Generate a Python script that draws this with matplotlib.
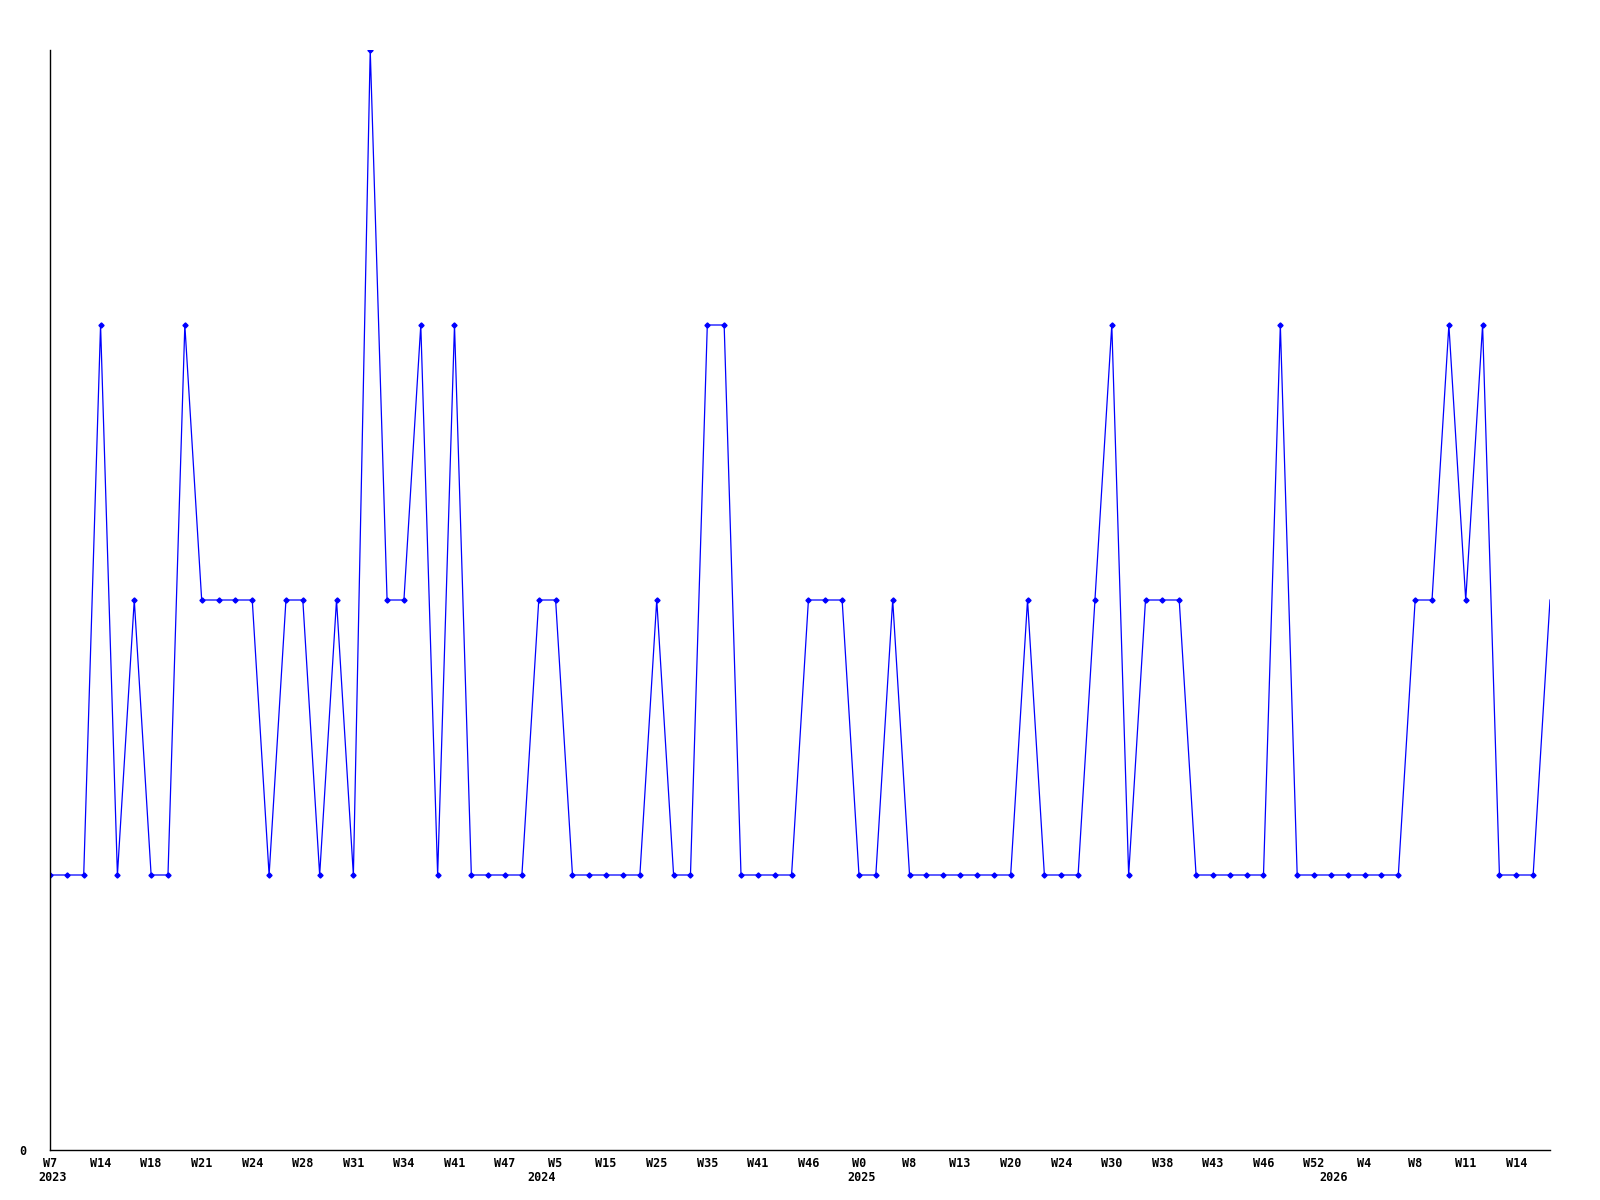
import matplotlib
matplotlib.use("Agg")
import matplotlib.pyplot as plt
import numpy as np

# valores semanales (uno por punto)
values = [1, 1, 1, 3, 1, 2, 1, 1, 3, 2,
          2, 2, 2, 1, 2, 2, 1, 2, 1, 4,
          2, 2, 3, 1, 3, 1, 1, 1, 1, 2,
          2, 1, 1, 1, 1, 1, 2, 1, 1, 3,
          3, 1, 1, 1, 1, 2, 2, 2, 1, 1,
          2, 1, 1, 1, 1, 1, 1, 1, 2, 1,
          1, 1, 2, 3, 1, 2, 2, 2, 1, 1,
          1, 1, 1, 3, 1, 1, 1, 1, 1, 1,
          1, 2, 2, 3, 2, 3, 1, 1, 1, 2]

week_labels = ['W7', 'W14', 'W18', 'W21', 'W24', 'W28', 'W31', 'W34', 'W41', 'W47',
               'W5', 'W15', 'W25', 'W35', 'W41', 'W46', 'W0', 'W8', 'W13', 'W20',
               'W24', 'W30', 'W38', 'W43', 'W46', 'W52', 'W4', 'W8', 'W11', 'W14']
label_step = 3

year_labels = ['2023', '2024', '2025', '2026']
year_index = [0, 29, 48, 76]

font = dict(family='DejaVu Sans Mono', fontweight='bold', fontsize=8.5)

x = np.arange(len(values))

fig = plt.figure(figsize=(16, 12), dpi=100)
ax = fig.add_axes([50 / 1600, 50 / 1200, 1500 / 1600, 1100 / 1200])

# el último punto (semana en curso) va sin marcador
ax.plot(x, values, color='#0000ff', linewidth=0.9, marker='D', markersize=2.6,
        markerfacecolor='#0000ff', markeredgecolor='#0000ff',
        markevery=list(range(len(values) - 1)))

ax.set_xlim(0, len(values) - 1)
ax.set_ylim(0, max(values))

for s in ['top', 'right']:
    ax.spines[s].set_visible(False)
for s in ['left', 'bottom']:
    ax.spines[s].set_color('black')
    ax.spines[s].set_linewidth(1.0)

ax.set_xticks(x[::label_step])
ax.set_xticklabels(week_labels, **font)
ax.tick_params(axis='x', length=0, pad=5)

ax.set_yticks([0])
ax.set_yticklabels(['0'], **font)
ax.tick_params(axis='y', length=0, pad=17)

for idx, yr in zip(year_index, year_labels):
    ax.annotate(yr, xy=(idx, 0), xycoords=('data', 'axes fraction'),
                xytext=(2, -15), textcoords='offset points',
                ha='center', va='top', **font)

fig.savefig('out.png', dpi=100)
